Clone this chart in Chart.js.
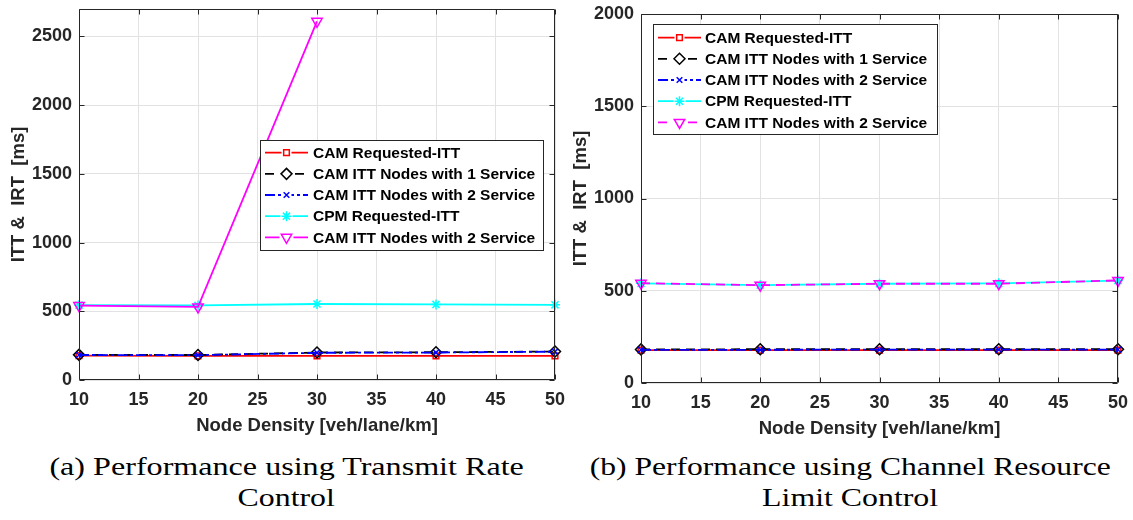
<!DOCTYPE html>
<html><head><meta charset="utf-8">
<script src="https://cdn.jsdelivr.net/npm/chart.js@4.4.1/dist/chart.umd.min.js"></script>
<style>
html,body{margin:0;padding:0;background:#fff}
body{width:1133px;height:520px;overflow:hidden;position:relative}
.c{position:absolute;top:0;height:445px}
.cap{position:absolute;font-family:"Liberation Serif","DejaVu Serif",serif;font-size:25px;color:#000;white-space:nowrap;line-height:30px;transform-origin:center center}
</style></head><body>
<div class="c" style="left:0;width:566px"><canvas id="chartA"></canvas></div>
<div class="c" style="left:566px;width:567px"><canvas id="chartB"></canvas></div>
<div class="cap" id="capA1">(a) Performance using Transmit Rate</div>
<div class="cap" id="capA2">Control</div>
<div class="cap" id="capB1">(b) Performance using Channel Resource</div>
<div class="cap" id="capB2">Limit Control</div>
<script>
// ---- data ----
const nodeDensity = [10, 20, 30, 40, 50];
const xTickValues = [10, 15, 20, 25, 30, 35, 40, 45, 50];
const yTickValuesA = [0, 500, 1000, 1500, 2000, 2500];
const yTickValuesB = [0, 500, 1000, 1500, 2000];
const seriesNames = ['CAM Requested-ITT', 'CAM ITT Nodes with 1 Service', 'CAM ITT Nodes with 2 Service', 'CPM Requested-ITT', 'CAM ITT Nodes with 2 Service'];
const xLabelText = 'Node Density [veh/lane/km]';
const yLabelText = 'ITT &  IRT  [ms]';

// (a) Transmit Rate Control
const a_camRequested = [177, 176, 176, 176, 176];
const a_camOneService = [183, 182, 200, 202, 207];
const a_camTwoService = [182, 181, 198, 200, 206];
const a_cpmRequested = [545, 543, 553, 550, 547];
const a_camTwoServiceB = [542, 532, 2610, null, null];

// (b) Channel Resource Limit Control
const b_camRequested = [178, 178, 178, 178, 178];
const b_camOneService = [182, 183, 183, 183, 183];
const b_camTwoService = [180, 180, 181, 181, 181];
const b_cpmRequested = [540, 530, 538, 540, 555];
const b_camTwoServiceB = [541, 530, 538, 538, 556];

// ---- styles ----
const TXT = '#262626';
const FONT = '"Liberation Sans", Arial, sans-serif';
const styleList = [
  {color:'#ff0000', dash:[], pointStyle:'rect', radius:4, rotation:0},
  {color:'#000000', dash:[9,6], pointStyle:'rectRot', radius:5.5, rotation:0},
  {color:'#0000ff', dash:[10,3,3,3], pointStyle:'crossRot', radius:4, rotation:0},
  {color:'#00ffff', dash:[], pointStyle:'star', radius:5, rotation:0},
  {color:'#ff00ff', dash:[], pointStyle:'triangle', radius:6, rotation:180}
];

function makeDatasets(seriesArr, magentaDash) {
  return seriesArr.map((vals, i) => {
    const s = styleList[i];
    const dash = (i === 4) ? magentaDash : s.dash;
    return {
      label: seriesNames[i],
      data: nodeDensity.map((x, k) => ({x: x, y: vals[k]})),
      borderColor: s.color,
      backgroundColor: 'rgba(0,0,0,0)',
      borderWidth: 1.8,
      borderDash: dash,
      pointStyle: s.pointStyle,
      pointRadius: s.radius,
      pointRotation: s.rotation,
      pointBorderColor: s.color,
      pointBackgroundColor: 'rgba(0,0,0,0)',
      pointBorderWidth: 1.5,
      pointHoverRadius: s.radius,
      spanGaps: false,
      tension: 0,
      clip: false,
      order: 4 - i,
      _dash: dash
    };
  });
}

const framePlugin = {
  id: 'matFrame',
  afterDatasetsDraw(chart) {
    const {ctx, chartArea: a, scales} = chart;
    ctx.save();
    ctx.strokeStyle = TXT;
    ctx.lineWidth = 1;
    ctx.setLineDash([]);
    ctx.beginPath();
    const L = Math.round(a.left) + 0.5, R = Math.round(a.right) - 0.5, T = Math.round(a.top) + 0.5, B = Math.round(a.bottom) - 0.5;
    ctx.rect(L, T, R - L, B - T);
    const tl = 5;
    scales.x.ticks.forEach(t => {
      const px = Math.round(scales.x.getPixelForValue(t.value)) + 0.5;
      ctx.moveTo(px, B); ctx.lineTo(px, B - tl);
      ctx.moveTo(px, T); ctx.lineTo(px, T + tl);
    });
    scales.y.ticks.forEach(t => {
      const py = Math.round(scales.y.getPixelForValue(t.value)) + 0.5;
      ctx.moveTo(L, py); ctx.lineTo(L + tl, py);
      ctx.moveTo(R, py); ctx.lineTo(R - tl, py);
    });
    ctx.stroke();
    ctx.restore();
  }
};

const legendPlugin = {
  id: 'matLegend',
  afterDraw(chart, args, opts) {
    const {ctx} = chart;
    ctx.save();
    ctx.fillStyle = '#ffffff';
    ctx.fillRect(opts.x, opts.y, opts.w, opts.h);
    ctx.strokeStyle = '#262626';
    ctx.lineWidth = 1;
    ctx.setLineDash([]);
    ctx.strokeRect(Math.round(opts.x) + 0.5, Math.round(opts.y) + 0.5, opts.w, opts.h);
    chart.data.datasets.forEach((ds, i) => {
      const yy = opts.row0 + i * opts.rowStep;
      ctx.strokeStyle = ds.borderColor;
      ctx.lineWidth = 1.8;
      ctx.setLineDash(ds._dash);
      ctx.beginPath();
      ctx.moveTo(opts.lineX0, yy);
      ctx.lineTo(opts.lineX1, yy);
      ctx.stroke();
      ctx.setLineDash([]);
      ctx.fillStyle = '#ffffff';
      ctx.lineWidth = 1.5;
      ctx.strokeStyle = ds.pointBorderColor;
      const mx = (opts.lineX0 + opts.lineX1) / 2;
      ctx.fillRect(mx - ds.pointRadius - 1, yy - ds.pointRadius - 1, 2 * ds.pointRadius + 2, 2 * ds.pointRadius + 2);
      ctx.fillStyle = 'rgba(0,0,0,0)';
      Chart.helpers.drawPoint(ctx, {pointStyle: ds.pointStyle, radius: ds.pointRadius, rotation: ds.pointRotation, borderWidth: 1.5}, mx, yy);
      ctx.fillStyle = '#000000';
      ctx.font = 'bold 15.5px ' + FONT;
      ctx.textBaseline = 'middle';
      ctx.textAlign = 'left';
      ctx.fillText(ds.label, opts.textX, yy + 1);
    });
    ctx.restore();
  }
};

function makeChart(id, datasets, cfg) {
  return new Chart(document.getElementById(id), {
    type: 'line',
    data: {datasets: datasets},
    plugins: [framePlugin, legendPlugin],
    options: {
      responsive: true,
      maintainAspectRatio: false,
      animation: false,
      events: [],
      layout: {padding: {left: 0, right: cfg.padRight, top: cfg.padTop, bottom: 0}},
      plugins: {
        legend: {display: false},
        tooltip: {enabled: false},
        matLegend: cfg.legend
      },
      scales: {
        x: {
          type: 'linear', min: 10, max: 50,
          afterBuildTicks: s => { s.ticks = xTickValues.map(v => ({value: v})); },
          ticks: {padding: 9.5, color: TXT, font: {family: FONT, size: 18, weight: 'bold'}, maxRotation: 0, autoSkip: false, callback: v => String(v)},
          grid: {color: '#e2e2e2', lineWidth: 1, drawTicks: false},
          border: {display: false},
          title: {display: true, text: xLabelText, color: TXT, font: {family: FONT, size: 18.5, weight: 'bold'}, padding: {top: 0, bottom: cfg.xTitlePad}},
          afterFit: s => { s.height = cfg.xHeight; s.paddingLeft = 0; s.paddingRight = 0; s.paddingTop = 0; s.paddingBottom = 0; }
        },
        y: {
          type: 'linear', min: 0, max: cfg.yMax,
          afterBuildTicks: s => { s.ticks = cfg.yTicks.map(v => ({value: v})); },
          ticks: {padding: 7, color: TXT, font: {family: FONT, size: 18, weight: 'bold'}, autoSkip: false, callback: v => String(v)},
          grid: {color: '#e2e2e2', lineWidth: 1, drawTicks: false},
          border: {display: false},
          title: {display: true, text: yLabelText, color: TXT, font: {family: FONT, size: 18.5, weight: 'bold'}, padding: {top: cfg.yTitlePad, bottom: 0}},
          afterFit: s => { s.width = cfg.yWidth; s.paddingLeft = 0; s.paddingRight = 0; s.paddingTop = 0; s.paddingBottom = 0; }
        }
      }
    }
  });
}

makeChart('chartA',
  makeDatasets([a_camRequested, a_camOneService, a_camTwoService, a_cpmRequested, a_camTwoServiceB], []),
  {padRight: 11, padTop: 9, yMax: 2700, yTicks: yTickValuesA, xHeight: 65, yWidth: 79, xTitlePad: 8, yTitlePad: 7.5,
   legend: {x: 260, y: 140, w: 283, h: 110, row0: 152.7, rowStep: 21.15, lineX0: 265, lineX1: 308, textX: 313}});

makeChart('chartB',
  makeDatasets([b_camRequested, b_camOneService, b_camTwoService, b_cpmRequested, b_camTwoServiceB], [9,6]),
  {padRight: 15, padTop: 14, yMax: 2000, yTicks: yTickValuesB, xHeight: 62, yWidth: 75, xTitlePad: 5, yTitlePad: 3.5,
   legend: {x: 86.5, y: 24.3, w: 284, h: 110, row0: 37.6, rowStep: 21.2, lineX0: 92, lineX1: 135, textX: 139}});

// captions: fit text to measured spans of the reference
(function(){
  const m = document.createElement('canvas').getContext('2d');
  m.font = '25px "Liberation Serif", "DejaVu Serif", serif';
  function place(id, cx, cy, targetW) {
    const el = document.getElementById(id);
    const w = m.measureText(el.textContent).width;
    const k = targetW ? targetW / w : 1;
    el.style.left = (cx - w / 2) + 'px';
    el.style.top = (cy - 15) + 'px';
    el.style.width = w + 'px';
    el.style.transform = 'scaleX(' + k + ')';
    return k;
  }
  const k1 = place('capA1', 286.5, 467, 475);
  const k2 = place('capB1', 850, 467, 521);
  const kk = (k1 + k2) / 2;
  const c1 = document.getElementById('capA2');
  const c2 = document.getElementById('capB2');
  [[c1, 286.5], [c2, 850]].forEach(([el, cx]) => {
    const w = m.measureText(el.textContent).width;
    el.style.left = (cx - w / 2) + 'px';
    el.style.top = (498 - 15) + 'px';
    el.style.width = w + 'px';
    el.style.transform = 'scaleX(' + kk + ')';
  });
})();
</script>
</body></html>
